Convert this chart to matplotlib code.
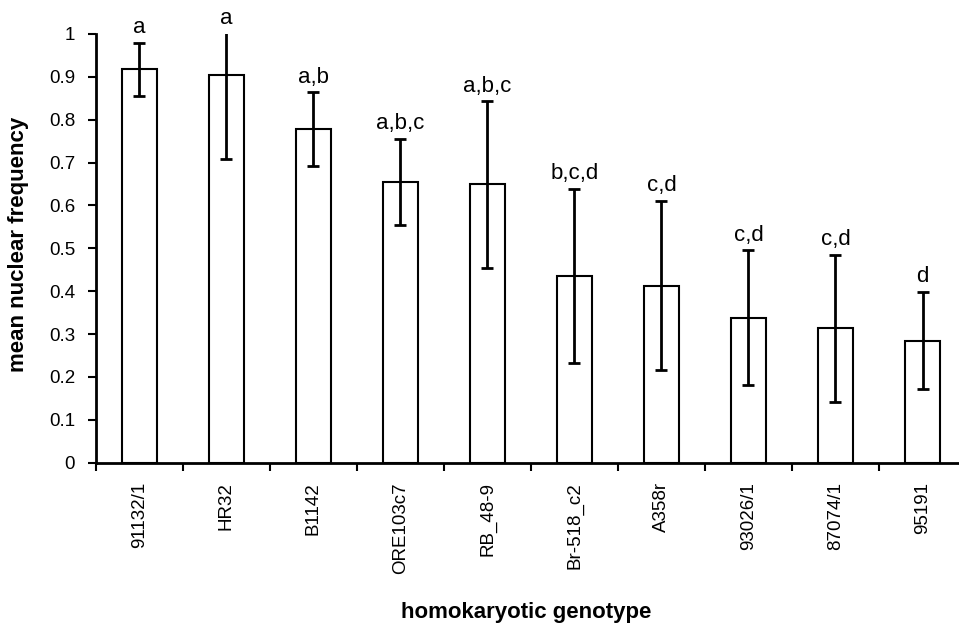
import numpy as np
import matplotlib.pyplot as plt
from matplotlib.ticker import FixedLocator

plt.rcParams['font.family'] = ['Liberation Sans', 'DejaVu Sans']

# genotype means, standard errors and significance groups
genotypes = ['91132/1', 'HR32', 'B1142', 'ORE103c7', 'RB_48-9',
             'Br-518_c2', 'A358r', '93026/1', '87074/1', '95191']
means = [0.918, 0.904, 0.778, 0.655, 0.649, 0.436, 0.413, 0.338, 0.313, 0.285]
errs = [0.062, 0.195, 0.086, 0.100, 0.194, 0.203, 0.197, 0.157, 0.172, 0.113]
groups = ['a', 'a', 'a,b', 'a,b,c', 'a,b,c', 'b,c,d', 'c,d', 'c,d', 'c,d', 'd']
yticks = [0, 0.1, 0.2, 0.3, 0.4, 0.5, 0.6, 0.7, 0.8, 0.9, 1]

fig = plt.figure(figsize=(9.59, 6.26), dpi=100)
ax = fig.add_axes([0.1001, 0.2609, 0.9072, 0.6848])

x = np.arange(len(genotypes))
ax.bar(x, means, width=0.41, color='white', edgecolor='black', linewidth=1.5, zorder=2)
ax.errorbar(x, means, yerr=errs, fmt='none', ecolor='black', elinewidth=2,
            capsize=4, capthick=2, zorder=3)

ymax = 1.0
for xi, m, e, g in zip(x, means, errs, groups):
    ax.annotate(g, (xi, min(m + e, ymax)), xytext=(0, 7), textcoords='offset points',
                ha='center', va='baseline', fontsize=16)

ax.set_xlim(-0.5, len(genotypes) - 0.5)
ax.set_ylim(0, ymax)
ax.set_yticks(yticks)
ax.set_yticklabels([f'{v:g}' for v in yticks])

# category labels centred, tick marks on the boundaries
ax.set_xticks(x)
ax.set_xticklabels(genotypes, rotation=90, va='top', ha='center')
ax.xaxis.set_minor_locator(FixedLocator(np.arange(-0.5, len(genotypes), 1.0)))
ax.tick_params(axis='x', which='major', length=0, pad=14, labelsize=13.5)
ax.tick_params(axis='x', which='minor', length=6, width=1.5, direction='out')
ax.tick_params(axis='y', length=6, width=1.5, direction='out', labelsize=13.5, pad=9)

for side in ['top', 'right']:
    ax.spines[side].set_visible(False)
for side in ['left', 'bottom']:
    ax.spines[side].set_linewidth(2)

ax.set_ylabel('mean nuclear frequency', fontsize=16, fontweight='bold')
ax.yaxis.set_label_coords(-0.077, 0.51)
ax.set_xlabel('homokaryotic genotype', fontsize=16, fontweight='bold')
ax.xaxis.set_label_coords(0.495, -0.325)

fig.savefig('out.png', dpi=100)
